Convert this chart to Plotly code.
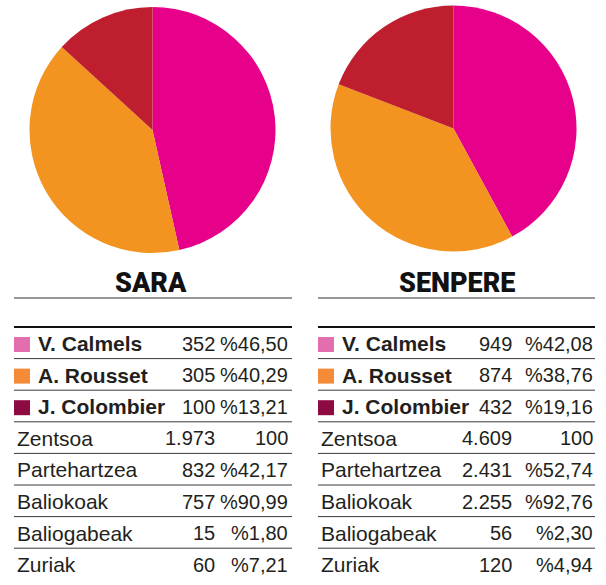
import plotly.graph_objects as go

W, H = 606, 585

# ---- data ----
candidates = ["V. Calmels", "A. Rousset", "J. Colombier"]
sara_votes = [352, 305, 100]
sara_pct = ["%46,50", "%40,29", "%13,21"]
senpere_votes = [949, 874, 432]
senpere_pct = ["%42,08", "%38,76", "%19,16"]

stats_labels = ["Zentsoa", "Partehartzea", "Baliokoak", "Baliogabeak", "Zuriak"]
sara_stats_n = ["1.973", "832", "757", "15", "60"]
sara_stats_p = ["100", "%42,17", "%90,99", "%1,80", "%7,21"]
senpere_stats_n = ["4.609", "2.431", "2.255", "56", "120"]
senpere_stats_p = ["100", "%52,74", "%92,76", "%2,30", "%4,94"]

titles = ["SARA", "SENPERE"]

pie_colors = ["#E6008A", "#F39320", "#BE1E2D"]
legend_colors = ["#E26DAF", "#F58B36", "#8D0B42"]
TEXT = "#231F20"


def fx(x):
    return x / W


def fy(y):
    return 1 - y / H


fig = go.Figure()

pie_geoms = [(152.5, 130, 123), (453.5, 128.5, 123)]
for (cx, cy, r), vals in zip(pie_geoms, [sara_votes, senpere_votes]):
    fig.add_trace(go.Pie(
        labels=candidates, values=vals, sort=False, direction="clockwise",
        rotation=0, marker=dict(colors=pie_colors, line=dict(width=0)),
        textinfo="none", hoverinfo="label+value+percent", showlegend=False,
        domain=dict(x=[fx(cx - r), fx(cx + r)], y=[fy(cy + r), fy(cy - r)]),
    ))

shapes = []
annotations = []

tables = [
    dict(x0=14, x1=292, title=titles[0], tcx=151, name_x=36, sq_x=14, nx=217, px=290,
         votes=sara_votes, pct=sara_pct, sn=sara_stats_n, sp=sara_stats_p, lx=15),
    dict(x0=318, x1=595, title=titles[1], tcx=456.5, name_x=340, sq_x=318, nx=514, px=595,
         votes=senpere_votes, pct=senpere_pct, sn=senpere_stats_n, sp=senpere_stats_p, lx=319),
]

TOP = 327
PITCH = 31.6
FONT = "Liberation Sans, Arial, sans-serif"
TFONT = "Roboto, Liberation Sans, sans-serif"
FS = 21
NFS = 20

for t in tables:
    annotations.append(dict(x=fx(t["tcx"]), y=fy(282.5), xref="paper", yref="paper",
                            text=t["title"], showarrow=False,
                            xanchor="center", yanchor="middle",
                            font=dict(family=TFONT, size=27, color="#111111", weight=900)))
    shapes.append(dict(type="line", xref="paper", yref="paper",
                       x0=fx(t["x0"]), x1=fx(t["x1"]), y0=fy(298), y1=fy(298),
                       line=dict(color="#333333", width=1)))
    shapes.append(dict(type="line", xref="paper", yref="paper",
                       x0=fx(t["x0"]), x1=fx(t["x1"]), y0=fy(TOP), y1=fy(TOP),
                       line=dict(color="#111111", width=2.2)))
    rows = []
    for i, c in enumerate(candidates):
        rows.append((c, f"{t['votes'][i]}", t["pct"][i], True, legend_colors[i]))
    for i, s in enumerate(stats_labels):
        rows.append((s, t["sn"][i], t["sp"][i], False, None))
    for i, (label, n, p, bold, col) in enumerate(rows):
        ytop = TOP + PITCH * i
        yc = ytop + 16.5
        if i < len(rows) - 1:
            ybot = TOP + PITCH * (i + 1)
            shapes.append(dict(type="line", xref="paper", yref="paper",
                               x0=fx(t["x0"]), x1=fx(t["x1"]), y0=fy(ybot), y1=fy(ybot),
                               line=dict(color="#3a3a3a", width=1)))
        if bold:
            shapes.append(dict(type="rect", xref="paper", yref="paper",
                               x0=fx(t["sq_x"]), x1=fx(t["sq_x"] + 16),
                               y0=fy(ytop + 25), y1=fy(ytop + 10),
                               fillcolor=col, line=dict(width=0)))
            annotations.append(dict(x=fx(t["name_x"]), y=fy(yc), xref="paper", yref="paper",
                                    text="<b>%s</b>" % label, showarrow=False,
                                    xanchor="left", yanchor="middle",
                                    font=dict(family=FONT, size=FS, color=TEXT)))
        else:
            annotations.append(dict(x=fx(t["lx"]), y=fy(yc), xref="paper", yref="paper",
                                    text=label, showarrow=False,
                                    xanchor="left", yanchor="middle",
                                    font=dict(family=FONT, size=FS, color=TEXT)))
        annotations.append(dict(x=fx(t["nx"]), y=fy(yc), xref="paper", yref="paper",
                                text=n, showarrow=False, xanchor="right", yanchor="middle",
                                font=dict(family=FONT, size=NFS, color=TEXT)))
        annotations.append(dict(x=fx(t["px"]), y=fy(yc), xref="paper", yref="paper",
                                text=p, showarrow=False, xanchor="right", yanchor="middle",
                                font=dict(family=FONT, size=NFS, color=TEXT)))

fig.update_layout(
    width=W, height=H, margin=dict(l=0, r=0, t=0, b=0),
    paper_bgcolor="white", plot_bgcolor="white",
    shapes=shapes, annotations=annotations,
)

fig.write_html("out.html", config={"displayModeBar": False},
               post_script="document.body.style.margin='0px';")
